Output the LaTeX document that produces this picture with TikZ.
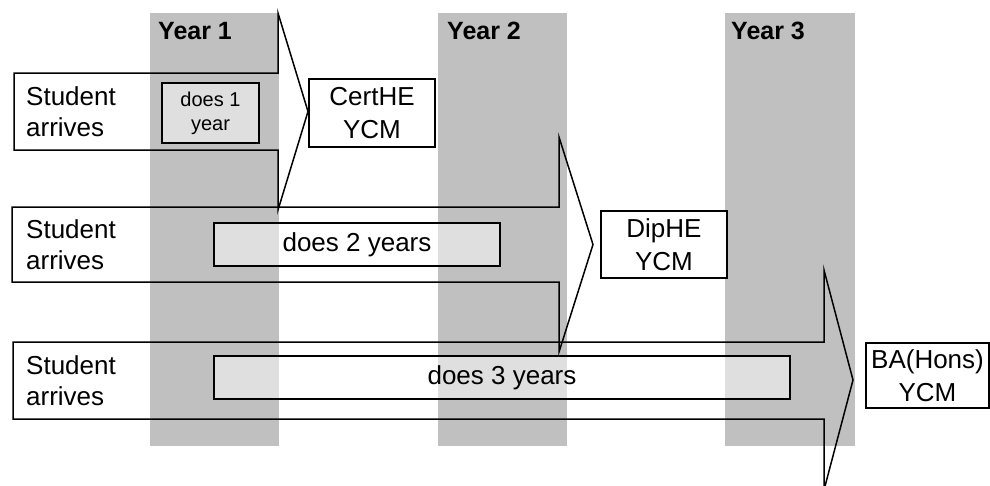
\documentclass[tikz,border=0pt]{standalone}
\usepackage{fontspec}
\setmainfont{Liberation Sans}
\definecolor{colgray}{HTML}{C0C0C0}
\begin{document}
\begin{tikzpicture}[x=1pt,y=-1pt,
  yearcol/.style={fill=colgray, draw=none},
  yearlbl/.style={font=\fontsize{25}{29}\selectfont\bfseries, inner sep=0, anchor=base west},
  barrow/.style={draw=black, line width=1.5pt, line join=miter},
  who/.style={font=\fontsize{26}{31}\selectfont, align=left, inner sep=0, anchor=west},
  spanbox/.style={draw=black, line width=1.5pt, fill=white, fill opacity=0.5, text opacity=1, inner sep=0, font=\fontsize{26}{31}\selectfont, align=center},
  award/.style={draw=black, line width=1.5pt, fill=white, inner sep=0, font=\fontsize{26}{33}\selectfont, align=center}]
\useasboundingbox (0,0) rectangle (990,485);
\clip (0,0) rectangle (990,485);
% year columns
\fill[yearcol] (150,13) rectangle (279,446);
\fill[yearcol] (438,13) rectangle (567,446);
\fill[yearcol] (725,13) rectangle (855,446);
\node[yearlbl] (y1) at (158,39) {Year 1};
\node[yearlbl] (y2) at (447,39) {Year 2};
\node[yearlbl] (y3) at (731,39) {Year 3};
% block arrows
\draw[barrow] (14,73) -- (278,73) -- (278,13) -- (308,111.5) -- (278,210) -- (278,150) -- (14,150) -- cycle;
\draw[barrow] (12,207) -- (559,207) -- (559,137) -- (593,244.5) -- (559,352) -- (559,282) -- (12,282) -- cycle;
\draw[barrow] (13,342) -- (824,342) -- (824,270) -- (853,380) -- (824,490) -- (824,419) -- (13,419) -- cycle;
% student labels
\node[who] (s1) at (26,111.5) {Student\\arrives};
\node[who] (s2) at (26,244.5) {Student\\arrives};
\node[who] (s3) at (26,380.5) {Student\\arrives};
% duration boxes
\node[spanbox, minimum width=97, minimum height=60, font=\fontsize{20}{24}\selectfont] (d1) at (210.5,113) {does 1\\year};
\node[spanbox, minimum width=286, minimum height=43] (d2) at (357,244.5) {does 2 years};
\node[spanbox, minimum width=576, minimum height=43] (d3) at (502,377.5) {does 3 years};
% awards
\node[award, minimum width=126, minimum height=68] (a1) at (372,113) {CertHE\\YCM};
\node[award, minimum width=126, minimum height=67] (a2) at (664,244.5) {DipHE\\YCM};
\node[award, minimum width=123, minimum height=65] (a3) at (927.5,375.5) {BA(Hons)\\YCM};
\end{tikzpicture}
\end{document}
